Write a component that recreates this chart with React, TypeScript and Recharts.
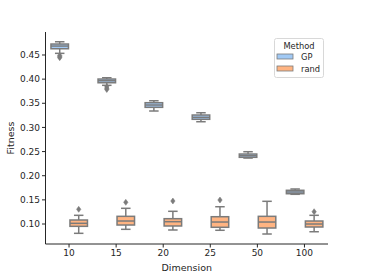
import { Bar, ComposedChart, XAxis, YAxis } from 'recharts'

const dims = ['10', '15', '20', '25', '50', '100']

const gpLow = [0.4534, 0.3872, 0.334, 0.3118, 0.2366, 0.1615]
const gpQ1 = [0.4629, 0.3925, 0.3416, 0.3168, 0.2381, 0.1627]
const gpMed = [0.4685, 0.3967, 0.3464, 0.3209, 0.2414, 0.1663]
const gpQ3 = [0.4727, 0.4002, 0.3512, 0.3257, 0.2449, 0.1698]
const gpHigh = [0.4774, 0.4029, 0.3553, 0.3304, 0.2497, 0.1725]
const gpOut = [[0.449, 0.4465, 0.4445], [0.384, 0.381, 0.3785], [], [], [], []]

const randLow = [0.0807, 0.089, 0.0876, 0.087, 0.0793, 0.084]
const randQ1 = [0.0952, 0.0979, 0.0959, 0.0932, 0.0917, 0.0938]
const randMed = [0.1014, 0.1062, 0.1048, 0.1041, 0.1041, 0.1]
const randQ3 = [0.1083, 0.1159, 0.111, 0.1151, 0.1159, 0.1062]
const randHigh = [0.118, 0.1325, 0.1263, 0.1358, 0.147, 0.118]
const randOut = [[0.1304], [0.1449], [0.1476], [0.1497], [], [0.1255]]

const yTicks = [0.1, 0.15, 0.2, 0.25, 0.3, 0.35, 0.4, 0.45]

const GP_COLOR = '#a1c9f4'
const RAND_COLOR = '#ffb482'
const LINE = '#7b7b7b'
const TEXT = '#262626'
const FONT = 'DejaVu Sans'

const data = dims.map((dim, i) => ({
  dim,
  gp: { low: gpLow[i], q1: gpQ1[i], med: gpMed[i], q3: gpQ3[i], high: gpHigh[i], out: gpOut[i] },
  rand: { low: randLow[i], q1: randQ1[i], med: randMed[i], q3: randQ3[i], high: randHigh[i], out: randOut[i] },
}))

function makeBox(key: 'gp' | 'rand', fill: string) {
  return (props: any) => {
    const { x, y, width, height, payload } = props
    const s = payload[key]
    // value -> pixel from the bar's own scaled extent
    const px = (v: number) => y + ((s.high - v) / (s.high - s.low)) * height
    const cx = x + width / 2
    const capW = width / 4
    return (
      <g>
        <line x1={cx} x2={cx} y1={px(s.high)} y2={px(s.q3)} stroke={LINE} strokeWidth={1.5} />
        <line x1={cx} x2={cx} y1={px(s.q1)} y2={px(s.low)} stroke={LINE} strokeWidth={1.5} />
        <line x1={cx - capW} x2={cx + capW} y1={px(s.high)} y2={px(s.high)} stroke={LINE} strokeWidth={1.5} />
        <line x1={cx - capW} x2={cx + capW} y1={px(s.low)} y2={px(s.low)} stroke={LINE} strokeWidth={1.5} />
        <rect
          x={x + 0.75}
          y={px(s.q3)}
          width={width - 1.5}
          height={px(s.q1) - px(s.q3)}
          fill={fill}
          stroke={LINE}
          strokeWidth={1.5}
        />
        <line x1={x + 0.75} x2={x + width - 0.75} y1={px(s.med)} y2={px(s.med)} stroke={LINE} strokeWidth={1.5} />
        {s.out.map((o: number, j: number) => {
          const oy = px(o)
          return (
            <path
              key={j}
              d={`M${cx},${oy - 3} L${cx + 2.2},${oy} L${cx},${oy + 3} L${cx - 2.2},${oy} Z`}
              fill={LINE}
              stroke={LINE}
              strokeWidth={0.5}
            />
          )
        })}
      </g>
    )
  }
}

function LegendBox() {
  return (
    <svg width={50} height={40} style={{ display: 'block' }}>
      <rect x={0.5} y={0.5} width={49} height={39} rx={2} fill="#fff" stroke="#d8d8d8" />
      <text x={25} y={8} textAnchor="middle" dominantBaseline="central" fontSize={8.3} fontFamily={FONT} fill={TEXT}>
        Method
      </text>
      <rect x={3} y={16} width={16} height={5} fill={GP_COLOR} stroke={LINE} strokeWidth={0.8} />
      <text x={27} y={18.5} dominantBaseline="central" fontSize={8.3} fontFamily={FONT} fill={TEXT}>
        GP
      </text>
      <rect x={3} y={28} width={16} height={5} fill={RAND_COLOR} stroke={LINE} strokeWidth={0.8} />
      <text x={27} y={30.5} dominantBaseline="central" fontSize={8.3} fontFamily={FONT} fill={TEXT}>
        rand
      </text>
    </svg>
  )
}

export default function App() {
  return (
    <div style={{ position: 'absolute', left: 0, top: 0, width: 365, height: 274, background: '#fff' }}>
      <ComposedChart
        width={365}
        height={274}
        data={data}
        margin={{ top: 32, right: 37, bottom: 0, left: 0 }}
        barCategoryGap="10%"
        barGap={0}
      >
        <XAxis
          dataKey="dim"
          height={30}
          tickSize={3.5}
          tickMargin={2}
          tick={{ fontSize: 9, fontFamily: FONT, fill: TEXT }}
          stroke={TEXT}
          label={(p: any) => {
            const vb = p.viewBox
            return (
              <text
                x={vb.x + vb.width / 2}
                y={267}
                textAnchor="middle"
                dominantBaseline="central"
                fontSize={9.5}
                fontFamily={FONT}
                fill={TEXT}
              >
                Dimension
              </text>
            )
          }}
        />
        <YAxis
          type="number"
          domain={[0.0586, 0.4976]}
          ticks={yTicks}
          width={45.5}
          tickSize={3.5}
          tickMargin={2}
          tickFormatter={(v: number) => v.toFixed(2)}
          tick={{ fontSize: 9, fontFamily: FONT, fill: TEXT }}
          stroke={TEXT}
          allowDataOverflow
          label={(p: any) => {
            const vb = p.viewBox
            const cy = vb.y + vb.height / 2
            return (
              <text
                x={10}
                y={cy}
                transform={`rotate(-90 10 ${cy})`}
                textAnchor="middle"
                dominantBaseline="central"
                fontSize={9.5}
                fontFamily={FONT}
                fill={TEXT}
              >
                Fitness
              </text>
            )
          }}
        />
        <Bar
          name="GP"
          dataKey={(d: any) => [d.gp.low, d.gp.high]}
          fill={GP_COLOR}
          shape={makeBox('gp', GP_COLOR)}
          isAnimationActive={false}
        />
        <Bar
          name="rand"
          dataKey={(d: any) => [d.rand.low, d.rand.high]}
          fill={RAND_COLOR}
          shape={makeBox('rand', RAND_COLOR)}
          isAnimationActive={false}
        />
      </ComposedChart>
      <div style={{ position: 'absolute', left: 274, top: 38 }}>
        <LegendBox />
      </div>
    </div>
  )
}
